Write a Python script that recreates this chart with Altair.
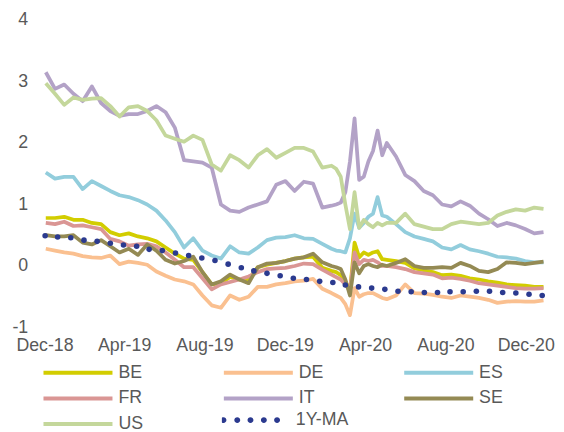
import altair as alt
import pandas as pd

# ---- dates (x categories) ----
d1 = pd.date_range("2018-12-03", "2020-02-10", freq="14D")
d2 = pd.date_range("2020-02-17", "2020-05-04", freq="7D")
d3 = pd.date_range("2020-05-18", "2020-12-28", freq="14D")
dates = [d.strftime("%Y-%m-%d") for d in list(d1) + list(d2) + list(d3)]

series_names = ["BE", "DE", "ES", "FR", "IT", "SE", "US"]
series_colors = ["#D2CD00", "#FAC090", "#92CDDC", "#DA9694", "#B3A2C7", "#948A54", "#C4D79B"]
ma_name = "1Y-MA"
ma_color = "#2B3A8F"

BE = [0.78, 0.78, 0.80, 0.75, 0.75, 0.70, 0.68, 0.55, 0.50, 0.53,
      0.48, 0.45, 0.40, 0.30, 0.20, 0.12, 0.10, -0.10, -0.30, -0.28,
      -0.18, -0.22, -0.22, -0.02, 0.02, 0.05, 0.08, 0.12, 0.14, 0.15,
      -0.03, -0.08,
      -0.10, -0.15, -0.25, -0.42, 0.38, 0.14, 0.22, 0.18, 0.22, 0.24, 0.11, 0.10,
      0.08, 0.05, -0.04, -0.07, -0.10, -0.15, -0.14, -0.16, -0.20, -0.22,
      -0.25, -0.27, -0.30, -0.31, -0.32, -0.34, -0.34]
DE = [0.28, 0.25, 0.22, 0.20, 0.16, 0.14, 0.13, 0.17, 0.03, 0.07,
      0.05, 0.02, -0.09, -0.16, -0.22, -0.25, -0.30, -0.48, -0.64, -0.68,
      -0.48, -0.55, -0.50, -0.34, -0.34, -0.30, -0.28, -0.25, -0.24, -0.21,
      -0.37, -0.44,
      -0.48, -0.52, -0.62, -0.80, -0.36, -0.50, -0.46, -0.44, -0.44, -0.48, -0.52, -0.54,
      -0.48, -0.30, -0.44, -0.45, -0.47, -0.50, -0.52, -0.48, -0.50, -0.52,
      -0.55, -0.60, -0.58, -0.57, -0.58, -0.58, -0.56]
ES = [1.52, 1.42, 1.45, 1.45, 1.25, 1.38, 1.30, 1.22, 1.15, 1.12,
      1.07, 1.00, 0.90, 0.74, 0.55, 0.30, 0.45, 0.25, 0.17, 0.12,
      0.32, 0.22, 0.20, 0.30, 0.42, 0.46, 0.47, 0.50, 0.45, 0.44,
      0.36, 0.28,
      0.25, 0.24, 0.22, 0.45, 0.85, 0.62, 0.70, 0.80, 0.85, 1.12, 0.82, 0.80,
      0.68, 0.55, 0.48, 0.44, 0.40, 0.30, 0.27, 0.34, 0.27, 0.24,
      0.20, 0.15, 0.14, 0.12, 0.08, 0.06, 0.06]
FR = [0.70, 0.68, 0.72, 0.65, 0.66, 0.63, 0.60, 0.44, 0.40, 0.33,
      0.35, 0.36, 0.32, 0.22, 0.10, -0.02, -0.02, -0.20, -0.38, -0.30,
      -0.26, -0.22, -0.17, -0.10, -0.05, -0.04, -0.03, 0.00, 0.04, 0.03,
      -0.06, -0.14,
      -0.18, -0.22, -0.30, -0.40, 0.22, 0.03, 0.10, 0.08, 0.10, 0.06, 0.00, 0.00,
      -0.02, -0.05, -0.10, -0.12, -0.14, -0.20, -0.19, -0.21, -0.24, -0.28,
      -0.30, -0.32, -0.34, -0.36, -0.37, -0.37, -0.36]
IT = [3.15, 2.88, 2.95, 2.80, 2.68, 2.92, 2.65, 2.52, 2.44, 2.47,
      2.47, 2.52, 2.60, 2.50, 2.25, 1.72, 1.70, 1.68, 1.60, 1.00,
      0.90, 0.88, 0.95, 1.00, 1.05, 1.32, 1.38, 1.22, 1.37, 1.34,
      0.95, 0.98,
      1.00, 1.03, 1.20, 1.70, 2.40, 1.40, 1.45, 1.70, 1.87, 2.20, 1.80, 2.00,
      1.78, 1.48, 1.38, 1.22, 1.15, 1.00, 0.97, 1.05, 0.98, 0.85,
      0.76, 0.65, 0.70, 0.66, 0.60, 0.53, 0.55]
SE = [0.50, 0.48, 0.48, 0.50, 0.38, 0.35, 0.42, 0.32, 0.22, 0.28,
      0.18, 0.35, 0.25, 0.10, 0.04, 0.08, 0.15, -0.10, -0.30, -0.25,
      -0.14, -0.22, -0.28, -0.02, 0.04, 0.05, 0.08, 0.12, 0.14, 0.20,
      0.06, 0.00,
      -0.02, -0.05, -0.22, -0.48, 0.06, -0.12, 0.00, 0.03, 0.00, -0.02, 0.02, 0.00,
      0.05, 0.11, 0.00, -0.03, -0.03, -0.02, -0.03, 0.05, 0.00, -0.08,
      -0.10, -0.05, 0.06, 0.05, 0.03, 0.05, 0.07]
US = [2.97, 2.80, 2.62, 2.74, 2.70, 2.72, 2.73, 2.60, 2.43, 2.58,
      2.60, 2.52, 2.37, 2.12, 2.07, 2.02, 2.12, 2.05, 1.65, 1.55,
      1.80, 1.72, 1.60, 1.80, 1.90, 1.76, 1.84, 1.92, 1.92, 1.86,
      1.60, 1.63,
      1.58, 1.45, 1.00, 0.60, 1.20, 0.62, 0.75, 0.68, 0.63, 0.70, 0.66, 0.70,
      0.70, 0.85, 0.68, 0.64, 0.60, 0.60, 0.68, 0.72, 0.70, 0.68,
      0.70, 0.82, 0.88, 0.92, 0.90, 0.95, 0.93]

# 1Y moving average: one value per dot of the dotted line
ma_dates = [d.strftime("%Y-%m-%d") for d in pd.date_range("2018-12-02", "2020-12-26", periods=39)]
MA = [0.49, 0.47, 0.46, 0.42, 0.40, 0.37, 0.34, 0.32, 0.27, 0.25,
      0.21, 0.17, 0.13, 0.09, 0.03, -0.03, -0.08, -0.12, -0.16, -0.20,
      -0.22, -0.25, -0.27, -0.31, -0.34, -0.36, -0.38, -0.41, -0.42, -0.43,
      -0.43, -0.42, -0.42, -0.41, -0.41, -0.43, -0.44, -0.46, -0.48]

values = {"BE": BE, "DE": DE, "ES": ES, "FR": FR, "IT": IT, "SE": SE, "US": US}

rows = []
for name in series_names:
    for d, v in zip(dates, values[name]):
        rows.append({"date": d, "value": v, "series": name})
df = pd.DataFrame(rows)
df_ma = pd.DataFrame({"date": ma_dates, "value": MA, "series": ma_name})

FONT = "Liberation Sans"
TXT = "#595959"
FS = 18

x_ticks = [alt.DateTime(year=y, month=m, date=1, utc=True)
           for y, m in [(2018, 12), (2019, 4), (2019, 8), (2019, 12), (2020, 4), (2020, 8), (2020, 12)]]

x_enc = alt.X("date:T",
              scale=alt.Scale(type="utc",
                              domain=[alt.DateTime(year=2018, month=12, date=1, utc=True),
                                      alt.DateTime(year=2021, month=1, date=1, utc=True)]),
              axis=alt.Axis(values=x_ticks, format="%b-%y", labelPadding=9, labelFlush=False,
                            labelOverlap=False),
              title=None)
y_enc = alt.Y("value:Q",
              scale=alt.Scale(domain=[-1, 4], nice=False, zero=False),
              axis=alt.Axis(values=[-1, 0, 1, 2, 3, 4], labelPadding=17,
                            labelExpr="'' + datum.value"),
              title=None)

lines = alt.Chart(df).mark_line(strokeWidth=3.8, strokeJoin="round").encode(
    x=x_enc, y=y_enc,
    color=alt.Color("series:N",
                    scale=alt.Scale(domain=series_names, range=series_colors),
                    legend=alt.Legend(title=None, orient="none", legendX=-3, legendY=350,
                                      direction="horizontal", columns=3, gridAlign="all",
                                      columnPadding=79, rowPadding=8, clipHeight=16,
                                      symbolType="stroke", symbolSize=4900, symbolStrokeWidth=4,
                                      labelOffset=4, padding=0)),
    detail="series:N",
)

r = 0.086
centers = [-0.954, -0.554, -0.171, 0.217, 0.6]
dots_path = "".join(f"M{c - r:.3f},0a{r},{r} 0 1,0 {2 * r:.3f},0a{r},{r} 0 1,0 {-2 * r:.3f},0Z" for c in centers)

ma = alt.Chart(df_ma).mark_circle(color=ma_color, size=32, opacity=1).encode(
    x=x_enc, y=y_enc,
    opacity=alt.Opacity("series:N",
                        scale=alt.Scale(type="ordinal", domain=[ma_name], range=[1]),
                        legend=alt.Legend(title=None, orient="none", legendX=180, legendY=398,
                                          clipHeight=16, symbolType=dots_path, symbolSize=4900,
                                          symbolFillColor=ma_color, symbolStrokeWidth=0,
                                          labelOffset=5, padding=0)),
)

chart = alt.layer(lines, ma).properties(
    width=509, height=312,
    autosize=alt.AutoSizeParams(type="none"),
    padding={"left": 37, "top": 9, "right": 10, "bottom": 109},
).configure(font=FONT, background="white").configure_view(stroke=None).configure_axis(
    labelFont=FONT, labelFontSize=FS, labelColor=TXT, grid=False, domain=False, ticks=False
).configure_legend(labelFont=FONT, labelFontSize=FS, labelColor=TXT)

chart.save("out.html", embed_options={"renderer": "svg", "actions": False})
